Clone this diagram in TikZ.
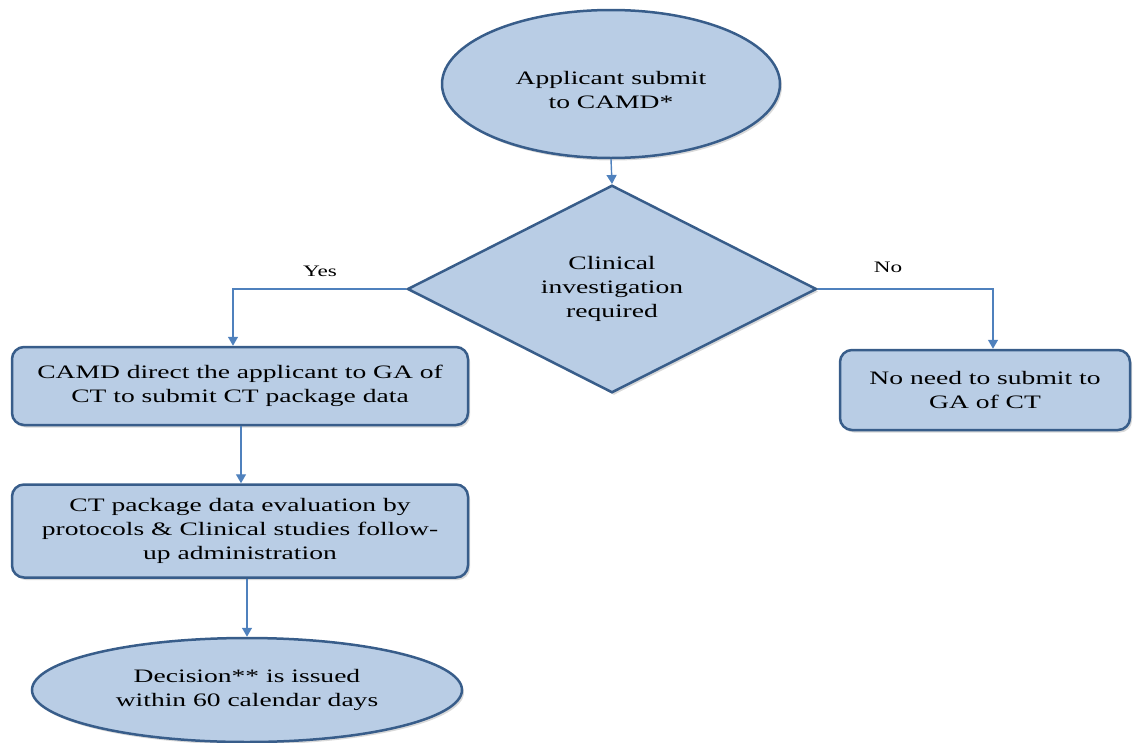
\documentclass[tikz,border=0pt]{standalone}
\usepackage{fontspec}
\setmainfont{Liberation Serif}[FakeStretch=1.45]
\usetikzlibrary{shapes.geometric,arrows.meta,shadows}
\definecolor{boxfill}{RGB}{185,205,229}
\definecolor{boxline}{RGB}{56,93,138}
\definecolor{arrowcol}{RGB}{79,129,189}

\begin{document}
\begin{tikzpicture}[x=1pt, y=-1pt,
	every node/.style={font=\fontsize{19}{24}\selectfont, align=center},
	blueshape/.style={fill=boxfill, draw=boxline, line width=2.5pt, inner sep=0pt,
		drop shadow={shadow xshift=2pt, shadow yshift=-2.5pt, opacity=0.3}},
	oval/.style={blueshape, ellipse},
	decide/.style={blueshape, diamond},
	stepbox/.style={blueshape, rounded corners=12pt},
	link/.style={arrowcol, line width=1.4pt, -{Triangle[width=10pt,length=9pt]}},
	lbl/.style={font=\fontsize{16}{20}\selectfont}]
	\useasboundingbox (0,0) rectangle (1133,742);
	\node[oval, minimum width=338pt, minimum height=148pt] (apply) at (611,84) {\rule{0pt}{26pt}Applicant submit\\to CAMD*};
	\node[decide, minimum width=409pt, minimum height=177pt] (clin) at (612,289) {Clinical\\investigation\\required};
	\node[stepbox, minimum width=456pt, minimum height=78pt] (direct) at (240,386) {CAMD direct the applicant to GA of\\CT to submit CT package data};
	\node[stepbox, minimum width=456pt, minimum height=93pt] (eval) at (240,531) {CT package data evaluation by\\protocols \& Clinical studies follow-\\up administration};
	\node[oval, minimum width=430pt, minimum height=104pt] (decision) at (247,690) {Decision** is issued\\within 60 calendar days};
	\node[stepbox, minimum width=290pt, minimum height=80pt] (noneed) at (985,390) {No need to submit to\\GA of CT};
	\node[lbl] (yes) at (320,271) {Yes};
	\node[lbl] (no) at (888,267) {No};
	\draw[link] (apply.south) -- (clin.north);
	\draw[link] (clin.west) -| ([xshift=-7pt]direct.north);
	\draw[link] (clin.east) -| ([xshift=8pt]noneed.north);
	\draw[link] ([xshift=1pt]direct.south) -- ([xshift=1pt]eval.north);
	\draw[link] (eval.south -| decision.north) -- (decision.north);
\end{tikzpicture}
\end{document}
